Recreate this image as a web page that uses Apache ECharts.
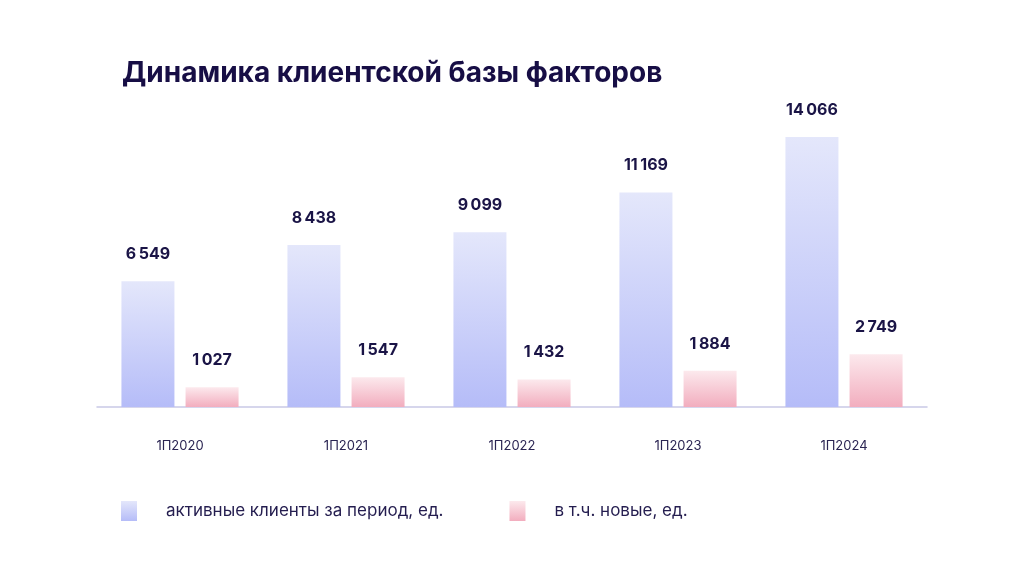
<!DOCTYPE html>
<html>
<head>
<meta charset="utf-8">
<script src="https://cdn.jsdelivr.net/npm/echarts@6/dist/echarts.min.js"></script>
<style>html,body{margin:0;padding:0;background:#fff}#c{width:1024px;height:576px}</style>
</head>
<body>
<div id="c"></div>
<script>
const categories = ['1П2020', '1П2021', '1П2022', '1П2023', '1П2024'];
const activeClients = [6549, 8438, 9099, 11169, 14066];
const newClients = [1027, 1547, 1432, 1884, 2749];
const seriesNames = ['активные клиенты за период, ед.', 'в т.ч. новые, ед.'];
const titleText = 'Динамика клиентской базы факторов';

const fmt = v => String(v).replace(/\B(?=(\d{3})+(?!\d))/g, '\u2009');
const font = 'Inter, "Noto Sans", sans-serif';
const blueGrad = new echarts.graphic.LinearGradient(0, 0, 0, 1, [
  {offset: 0, color: '#e4e7fb'}, {offset: 1, color: '#b5bcf8'}]);
const pinkGrad = new echarts.graphic.LinearGradient(0, 0, 0, 1, [
  {offset: 0, color: '#fce9ed'}, {offset: 1, color: '#f2adbe'}]);

const chart = echarts.init(document.getElementById('c'));
chart.setOption({
  animation: false,
  backgroundColor: '#fff',
  title: {
    text: titleText, left: 117, top: 55,
    textStyle: {fontFamily: font, fontSize: 28, fontWeight: 'bold', color: '#170e45'}
  },
  legend: {
    left: 116, top: 496,
    itemWidth: 16, itemHeight: 20, itemGap: 66,
    icon: 'rect',
    textStyle: {fontFamily: font, fontSize: 17, color: '#241d4f', padding: [0, 0, 0, 24]},
    data: [
      {name: seriesNames[0], itemStyle: {color: blueGrad}},
      {name: seriesNames[1], itemStyle: {color: pinkGrad}}
    ]
  },
  grid: {left: 97, right: 97, top: 119, bottom: 169},
  xAxis: {
    type: 'category', data: categories,
    axisLine: {lineStyle: {color: '#c9c9e6', width: 1.5}},
    axisTick: {show: false},
    axisLabel: {fontFamily: font, fontSize: 13, color: '#2a2452', margin: 33}
  },
  yAxis: {type: 'value', min: 0, max: 15000, show: false, splitLine: {show: false}},
  series: [
    {
      name: seriesNames[0], type: 'bar', data: activeClients,
      barWidth: 53, barGap: '21%',
      itemStyle: {color: blueGrad},
      label: {show: true, position: 'top', distance: 19, formatter: p => fmt(p.value),
        fontFamily: font, fontSize: 16, fontWeight: 'bold', color: '#1a1446'}
    },
    {
      name: seriesNames[1], type: 'bar', data: newClients,
      barWidth: 53,
      itemStyle: {color: pinkGrad},
      label: {show: true, position: 'top', distance: 19, formatter: p => fmt(p.value),
        fontFamily: font, fontSize: 16, fontWeight: 'bold', color: '#1a1446'}
    }
  ]
});
</script>
</body>
</html>
